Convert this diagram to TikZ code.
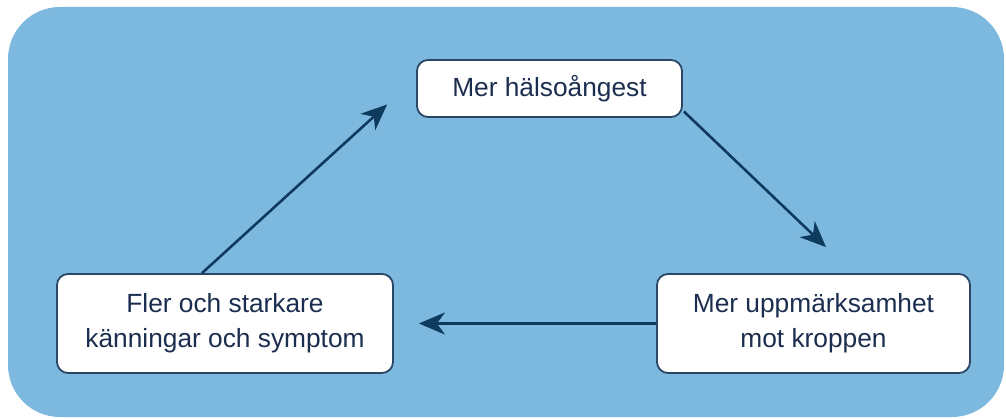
\documentclass[tikz,border=0pt]{standalone}
\usepackage{fontspec}
\setmainfont{Liberation Sans}
\usetikzlibrary{arrows.meta,shadows}
\definecolor{bgblue}{HTML}{7DB9DF}
\definecolor{arrowcol}{HTML}{0E3A5E}
\definecolor{boxline}{HTML}{2A4866}
\definecolor{txtcol}{HTML}{1C2E50}
\begin{document}
\begin{tikzpicture}[x=1pt,y=-1pt,
  stepbox/.style={draw=boxline, line width=1.8pt, fill=white, rounded corners=11pt,
    align=center, font=\fontsize{26.3}{35}\selectfont, text=txtcol, inner sep=0pt},
  conn/.style={draw=arrowcol, line width=2.6pt, -{Stealth[length=26pt,width=22pt,inset=8pt]}}]
\useasboundingbox (0,0) rectangle (1006,419);
\fill[white] (0,0) rectangle (1006,419);
\fill[bgblue, rounded corners=52pt] (8,7) rectangle (1004,417);
\node[stepbox, minimum width=265pt, minimum height=57pt] (T) at (549.5,88.5) {Mer hälsoångest};
\node[stepbox, minimum width=313pt, minimum height=99pt] (R) at (813.5,323.5) {Mer uppmärksamhet\\mot kroppen};
\node[stepbox, minimum width=336pt, minimum height=99pt] (L) at (225,323.5) {Fler och starkare\\känningar och symptom};
\coordinate (a1s) at ([xshift=-23pt]L.north);
\coordinate (a1e) at ([xshift=-29pt,yshift=-16pt]T.west);
\coordinate (a2s) at ([xshift=1pt,yshift=-23pt]T.east);
\coordinate (a2e) at ([xshift=12.5pt,yshift=26pt]R.north);
\coordinate (a3e) at ([xshift=25pt]L.east);
\draw[conn] (a1s) -- (a1e);
\draw[conn] (a2s) -- (a2e);
\draw[conn] (R.west) -- (a3e);
\end{tikzpicture}
\end{document}
